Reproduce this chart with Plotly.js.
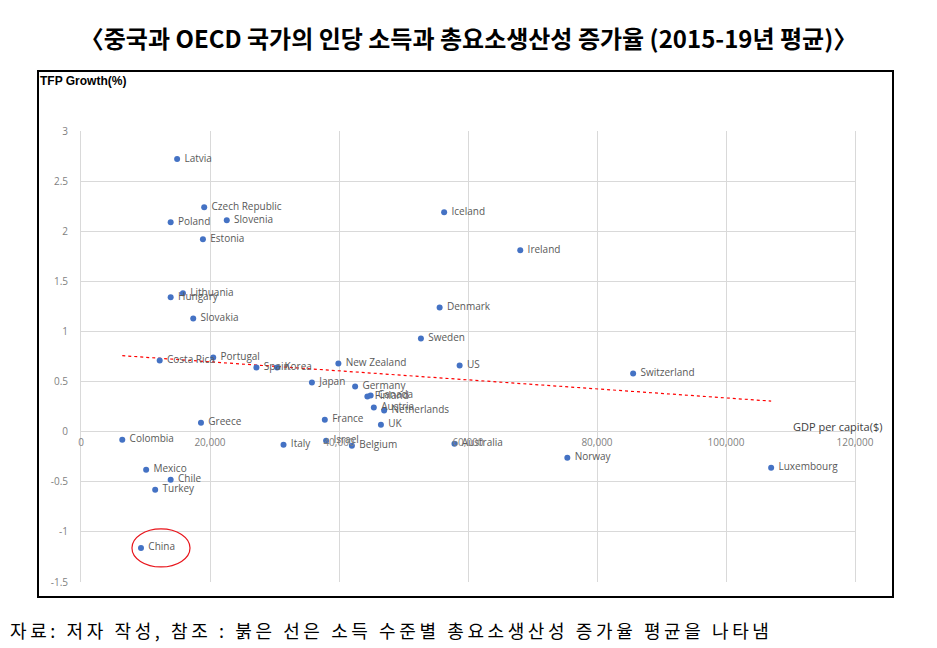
<!DOCTYPE html>
<html>
<head>
<meta charset="utf-8">
<script src="https://cdn.plot.ly/plotly-3.0.1.min.js"></script>
<style>
	body { margin: 0; background: #fff; }
	#chart { width: 937px; height: 648px; }
</style>
</head>
<body>
<div id="chart"></div>
<script>
/* GDP per capita vs TFP growth, OECD + China (2015-19 avg) */
var countries = ['Latvia', 'Czech Republic', 'Poland', 'Slovenia', 'Estonia', 'Lithuania', 'Hungary', 'Slovakia',
	'Costa Rica', 'Portugal', 'Spain', 'Korea', 'Japan', 'Greece', 'Colombia', 'Italy', 'Mexico', 'Chile',
	'Turkey', 'China', 'Sweden', 'New Zealand', 'US', 'Germany', 'Finland', 'Canada', 'Austria', 'Netherlands',
	'France', 'UK', 'Israel', 'Belgium', 'Australia', 'Iceland', 'Ireland', 'Denmark', 'Switzerland', 'Norway',
	'Luxembourg'];
var gdp = [14900, 19100, 13900, 22600, 18900, 15800, 13900, 17400,
	12200, 20500, 27200, 30400, 35800, 18600, 6400, 31400, 10100, 13900,
	11500, 9300, 52700, 39900, 58700, 42500, 44400, 44900, 45400, 47000,
	37800, 46500, 38000, 42000, 57900, 56300, 68100, 55600, 85600, 75400,
	107000];
var tfp = [2.72, 2.24, 2.09, 2.11, 1.92, 1.38, 1.34, 1.13,
	0.71, 0.74, 0.64, 0.64, 0.49, 0.09, -0.08, -0.13, -0.38, -0.48,
	-0.58, -1.16, 0.93, 0.68, 0.66, 0.45, 0.35, 0.36, 0.24, 0.21,
	0.12, 0.07, -0.09, -0.14, -0.12, 2.19, 1.81, 1.24, 0.58, -0.26,
	-0.36];

var yTickVals = [-1.5, -1, -0.5, 0, 0.5, 1, 1.5, 2, 2.5, 3];
var yTickText = ['-1.5', '-1', '-0.5', '0', '0.5', '1', '1.5', '2', '2.5', '3'];
var xTickVals = [0, 20000, 40000, 60000, 80000, 100000, 120000];
var xTickText = ['0', '20,000', '40,000', '60,000', '80,000', '100,000', '120,000'];

var chartTitle = '〈중국과 OECD 국가의 인당 소득과 총요소생산성 증가율 (2015-19년 평균)〉';
var yTitle = 'TFP Growth(%)';
var xTitle = 'GDP per capita($)';
var footNote = '자료: 저자 작성, 참조 : 붉은 선은 소득 수준별 총요소생산성 증가율 평균을 나타냄';

// plot area in pixels
var L = 81, R = 855, T = 131, B = 582;
function px(x) { return (x - L) / (R - L); }
function py(y) { return (B - y) / (B - T); }

// least squares trend line (Excel style linear trendline)
function trend(xs, ys) {
	var n = xs.length, sx = 0, sy = 0, sxx = 0, sxy = 0;
	for (var i = 0; i < n; i++) {
		sx += xs[i]; sy += ys[i];
		sxx += xs[i] * xs[i]; sxy += xs[i] * ys[i];
	}
	var b = (n * sxy - sx * sy) / (n * sxx - sx * sx);
	var a = (sy - b * sx) / n;
	var x0 = Math.min.apply(null, xs), x1 = Math.max.apply(null, xs);
	return { x: [x0, x1], y: [a + b * x0, a + b * x1] };
}

function drawChart() {
	var tl = trend(gdp, tfp);

	var points = {
		x: gdp,
		y: tfp,
		text: countries,
		texttemplate: '\u00a0%{text}',
		type: 'scatter',
		mode: 'markers+text',
		textposition: 'middle right',
		textfont: { family: 'Open Sans', size: 10, color: '#595959' },
		marker: { color: '#4472C4', size: 6 },
		cliponaxis: false,
		hoverinfo: 'skip'
	};

	var line = {
		x: tl.x,
		y: tl.y,
		type: 'scatter',
		mode: 'lines',
		line: { color: '#FF0000', width: 1.2, dash: 'dot' },
		hoverinfo: 'skip'
	};

	var ci = countries.indexOf('China');

	var layout = {
		width: 937,
		height: 648,
		margin: { l: L, r: 937 - R, t: T, b: 648 - B },
		paper_bgcolor: '#fff',
		plot_bgcolor: '#fff',
		showlegend: false,
		font: { family: 'Open Sans', color: '#595959' },
		title: {
			text: chartTitle,
			x: 0.5,
			xanchor: 'center',
			y: 1 - 40 / 648,
			yanchor: 'middle',
			font: { family: 'Noto Sans CJK KR', size: 24, color: '#000', weight: 'bold' }
		},
		xaxis: {
			range: [0, 120000],
			tickvals: xTickVals,
			ticktext: xTickText,
			showgrid: true,
			gridcolor: '#D9D9D9',
			zeroline: false,
			showline: false,
			anchor: 'free',
			position: 1.5 / 4.5,
			ticks: '',
			ticklabelstandoff: 3,
			tickfont: { family: 'Open Sans', size: 10, color: '#7F7F7F' }
		},
		yaxis: {
			range: [-1.5, 3],
			tickvals: yTickVals,
			ticktext: yTickText,
			showgrid: true,
			gridcolor: '#D9D9D9',
			zeroline: false,
			showline: true,
			mirror: true,
			linecolor: '#D9D9D9',
			linewidth: 1,
			ticks: '',
			ticklabelstandoff: 10,
			tickfont: { family: 'Open Sans', size: 10, color: '#7F7F7F' }
		},
		shapes: [{
			type: 'rect',
			xref: 'paper', yref: 'paper',
			x0: px(38), x1: px(893), y0: py(597), y1: py(71),
			line: { color: '#000', width: 2 }
		}, {
			type: 'circle',
			xref: 'x', yref: 'y',
			x0: gdp[ci] - 1400, x1: gdp[ci] + 7600,
			y0: tfp[ci] - 0.19, y1: tfp[ci] + 0.19,
			line: { color: '#E8141B', width: 1.2 }
		}],
		annotations: [{
			text: '<b>' + yTitle + '</b>',
			xref: 'paper', yref: 'paper',
			x: px(38), y: py(81),
			xanchor: 'left', yanchor: 'middle',
			showarrow: false,
			font: { family: 'Liberation Sans', size: 12, color: '#000' }
		}, {
			text: xTitle,
			xref: 'paper', yref: 'paper',
			x: px(884), y: py(426),
			xanchor: 'right', yanchor: 'middle',
			showarrow: false,
			font: { family: 'Open Sans', size: 11, color: '#404040' }
		}, {
			text: '<span style="letter-spacing:3.6px">' + footNote + '</span>',
			xref: 'paper', yref: 'paper',
			x: px(8), y: py(630),
			xanchor: 'left', yanchor: 'middle',
			showarrow: false,
			font: { family: 'Noto Sans CJK KR', size: 18, color: '#000' }
		}]
	};

	Plotly.newPlot('chart', [line, points], layout, { staticPlot: true });
}

window.onload = drawChart;
</script>
</body>
</html>
